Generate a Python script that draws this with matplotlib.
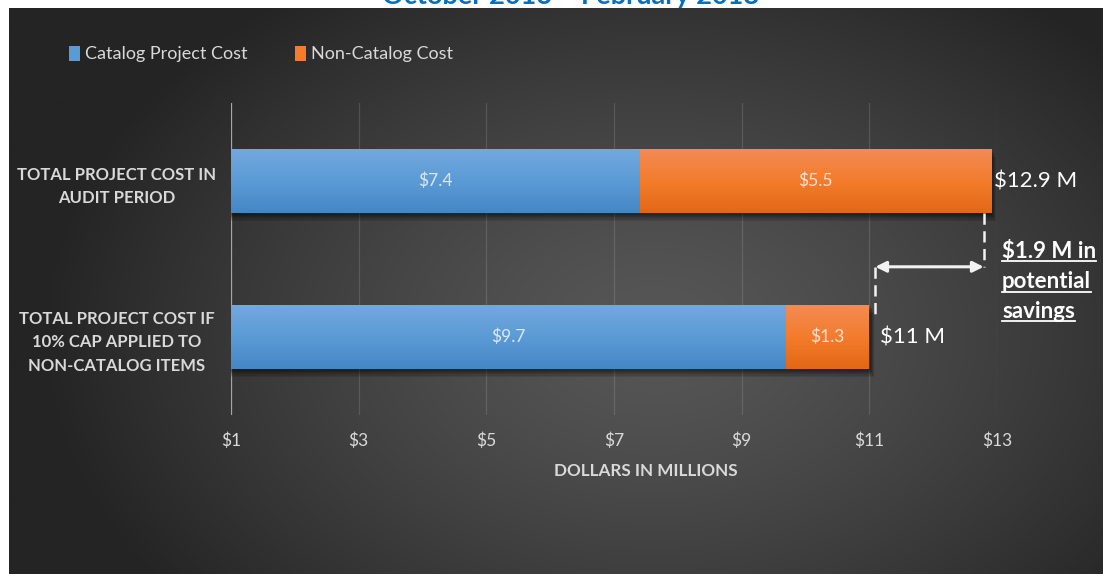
import numpy as np
import matplotlib
matplotlib.use("Agg")
import matplotlib.pyplot as plt
import matplotlib.patheffects as pe
from matplotlib import transforms
from matplotlib.lines import Line2D
from matplotlib.colors import LinearSegmentedColormap

plt.rcParams['font.family'] = ['Lato', 'DejaVu Sans']

# ---- data -------------------------------------------------------------
categories = ["TOTAL PROJECT COST IN\nAUDIT PERIOD",
              "TOTAL PROJECT COST IF\n10% CAP APPLIED TO\nNON-CATALOG ITEMS"]
catalog_cost = [7.4, 9.7]
non_catalog_cost = [5.5, 1.3]
total_labels = ["$12.9 M", "$11 M"]
savings_text = ["$1.9 M in", "potential", "savings"]
series_names = ["Catalog Project Cost", "Non-Catalog Cost"]
x_ticks = [1, 3, 5, 7, 9, 11, 13]
x_tick_labels = ["$1", "$3", "$5", "$7", "$9", "$11", "$13"]
title = "October 2016 \u2013 February 2018"

W, H = 1103, 574
PX = 72 / 100  # points per pixel at 100 dpi
fig = plt.figure(figsize=(W / 100, H / 100), dpi=100, facecolor="white")

# ---- dark radial-gradient panel --------------------------------------
bg = fig.add_axes([0, 0, 1, 1], zorder=-5)
bg.set_xlim(0, W)
bg.set_ylim(H, 0)
bg.axis("off")
yy, xx = np.mgrid[0:H, 0:W]
d = np.sqrt(((xx - 650) / 620.0) ** 2 + ((yy - 330) / 430.0) ** 2)
t = np.clip(d, 0, 1) ** 1.3
c_in = np.array([0x57, 0x57, 0x57]) / 255
c_out = np.array([0x24, 0x24, 0x24]) / 255
img = c_in[None, None, :] * (1 - t[..., None]) + c_out[None, None, :] * t[..., None]
bg.imshow(img, extent=[9, W, H, 8], aspect="auto", interpolation="bilinear")

# title sits above the panel, mostly cut by the figure edge
fig.text(570 / W, 1 - 4 / H, title, color="#0070C0", fontsize=19.5,
         fontweight="bold", ha="center", va="baseline", zorder=-10)

# ---- main axes --------------------------------------------------------
ax = fig.add_axes([231 / W, 1 - 415 / H, 766 / W, 312 / H])
ax.set_facecolor("none")
ax.set_xlim(1, 13)
ax.set_ylim(1.5, -0.5)
for s in ax.spines.values():
    s.set_visible(False)

ax.set_xticks(x_ticks)
ax.set_xticklabels(x_tick_labels)
ax.grid(axis="x", color="white", alpha=0.13, lw=0.9)
ax.set_axisbelow(True)
ax.axvline(1, color="#a6a6a6", lw=1.6, zorder=1)
ax.tick_params(axis="x", length=0, pad=18 * PX, labelsize=12.5,
               labelcolor="#d9d9d9")

ypos = np.arange(len(categories))
ax.set_yticks(ypos)
ax.set_yticklabels(categories, fontweight="bold", fontsize=12,
                   color="#d9d9d9", ha="center", multialignment="center",
                   linespacing=1.6)
ax.tick_params(axis="y", length=0, pad=(231 - 117) * PX)

fig.text(646 / W, 1 - 471 / H, "DOLLARS IN MILLIONS",
         ha="center", va="center", fontsize=12.3, fontweight="bold", color="#d9d9d9")

bar_h = 0.41
shadow = [pe.SimplePatchShadow(offset=(1.2 + k * 0.5, -1.5 - k * 0.8),
                               shadow_rgbFace="black", alpha=0.10) for k in range(6)]
shadow.append(pe.Normal())

blue_cmap = LinearSegmentedColormap.from_list("b", ["#73a8de", "#5b9bd5", "#4587c6"])
orange_cmap = LinearSegmentedColormap.from_list("o", ["#f28b54", "#f47c2c", "#e26815"])

bars_cat = ax.barh(ypos, catalog_cost, height=bar_h, color="#5b9bd5",
                   label=series_names[0], zorder=3, path_effects=shadow)
bars_non = ax.barh(ypos, non_catalog_cost, left=catalog_cost, height=bar_h,
                   color="#f47c2c", label=series_names[1], zorder=3,
                   path_effects=shadow)

# vertical shading on each bar, kept inside the plotting range
xmin = ax.get_xlim()[0]
grad = np.linspace(0, 1, 64)[:, None]
for container, cmap in ((bars_cat, blue_cmap), (bars_non, orange_cmap)):
    for b in container:
        x0, y0, w, h = b.get_x(), b.get_y(), b.get_width(), b.get_height()
        ax.imshow(grad, cmap=cmap, aspect="auto", zorder=3.5,
                  extent=[max(x0, xmin), x0 + w, y0 + h, y0],
                  interpolation="bilinear")
ax.set_xlim(1, 13)
ax.set_ylim(1.5, -0.5)

ax.bar_label(bars_cat, labels=[f"${v}" for v in catalog_cost], label_type="center",
             color="#dce6f2", fontsize=12.5, zorder=5)
ax.bar_label(bars_non, labels=[f"${v}" for v in non_catalog_cost], label_type="center",
             color="#fbe3d2", fontsize=12.5, zorder=5)

totals = [c + n for c, n in zip(catalog_cost, non_catalog_cost)]
label_offsets = [3, 11]
for i, (tv, lab) in enumerate(zip(totals, total_labels)):
    ax.annotate(lab, xy=(tv, ypos[i]), xytext=(label_offsets[i] * PX, 0),
                textcoords="offset points", ha="left", va="center",
                fontsize=16, color="white", annotation_clip=False)

# savings bracket: dashed drops from each total, joined by a double arrow
arrow_y = 0.55
right_tr = transforms.offset_copy(ax.transData, fig=fig, x=-7, y=0, units="dots")
left_tr = transforms.offset_copy(ax.transData, fig=fig, x=6, y=0, units="dots")
dash = dict(color="#f2f2f2", lw=1.8, linestyle=(0, (4.5, 2.6)), zorder=6)
ax.plot([totals[0], totals[0]], [ypos[0] + bar_h / 2, arrow_y], transform=right_tr, **dash)
ax.plot([totals[1], totals[1]], [arrow_y, 0.89], transform=left_tr, **dash)
ax.annotate("", xy=(totals[1], arrow_y), xytext=(totals[0], arrow_y),
            arrowprops=dict(arrowstyle="<|-|>", color="#f2f2f2", lw=2.2,
                            mutation_scale=16, shrinkA=5, shrinkB=4.3),
            annotation_clip=False, zorder=6)

sav_y = [251, 282, 311]
sav_texts = []
for s, py in zip(savings_text, sav_y):
    sav_texts.append(fig.text(1002 / W, 1 - py / H, s, ha="left", va="center",
                              fontsize=16, fontweight="bold", color="white"))

# legend
leg = fig.legend(handles=[bars_cat, bars_non], labels=series_names,
                 loc="center left", bbox_to_anchor=(69 / W, 1 - 54 / H),
                 ncol=2, frameon=False, fontsize=13, labelcolor="#d9d9d9",
                 handlelength=0.6, handleheight=0.9, handletextpad=0.3,
                 columnspacing=2.6, borderaxespad=0, borderpad=0)
for h in leg.legend_handles:
    h.set_path_effects([])

# underline the savings note
fig.canvas.draw()
r = fig.canvas.get_renderer()
for t_ in sav_texts:
    bb = t_.get_window_extent(r)
    yline = bb.y0 + 1
    fig.add_artist(Line2D([bb.x0 / W, bb.x1 / W], [yline / H, yline / H],
                          color="white", lw=1.3, transform=fig.transFigure))

fig.savefig("out.png", dpi=100, facecolor="white")
